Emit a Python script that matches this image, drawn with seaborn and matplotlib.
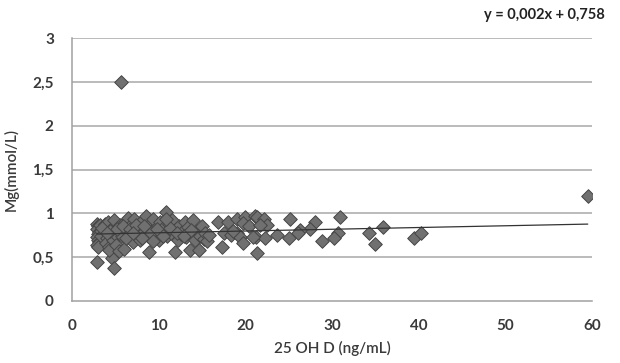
import numpy as np
import pandas as pd
import seaborn as sns
import matplotlib.pyplot as plt

# 25 OH D (ng/mL) vs Mg (mmol/L)
vit_d = [2.9, 3.0, 2.9, 3.1, 3.0, 2.9, 3.0, 3.1, 2.9, 3.0, 3.2, 3.3, 3.4, 2.9,
         3.8, 4.0, 4.2, 4.5, 4.0, 3.9, 4.3, 4.6, 4.3, 4.8, 4.8, 4.9, 4.7, 5.0, 5.1, 5.4,
         5.5, 5.7, 5.8, 6.0, 6.1, 6.3, 6.5, 6.6, 6.8, 6.9, 7.0, 7.2, 7.3, 7.5, 7.6, 5.7,
         7.8, 8.0, 8.2, 8.5, 8.6, 8.8, 8.9, 9.0, 9.2, 9.4, 9.5, 9.7, 9.9, 10.0, 10.2,
         10.4, 10.6, 10.9, 11.0, 11.2, 11.4, 11.6, 11.9, 12.0, 12.2, 12.4, 12.6, 12.8, 13.0, 13.2,
         13.4, 13.6, 13.8, 14.0, 14.2, 14.4, 14.7, 14.8, 15.0, 15.2, 15.4, 15.6, 15.8,
         3.5, 4.4, 5.2, 5.9, 6.7, 7.4, 8.3, 9.1, 9.8, 10.5, 11.3, 12.1, 12.9, 13.7,
         8.1, 6.2, 4.1, 10.8, 9.3, 7.0,
         16.8, 18.0, 19.0, 20.0, 21.1, 19.7, 20.4, 17.5, 18.3, 19.0, 19.4, 19.7, 21.2, 18.6, 17.3,
         21.3, 25.2, 28.0, 30.9, 30.7, 30.2, 28.8, 27.5, 26.3, 26.1, 25.0, 23.7, 22.3,
         21.4, 34.3, 35.0, 35.9, 39.5, 40.3, 22.1, 22.5, 21.7, 20.9, 59.5]
mg = [0.88, 0.85, 0.82, 0.79, 0.76, 0.73, 0.70, 0.67, 0.64, 0.61, 0.87, 0.80, 0.74, 0.45,
      0.88, 0.84, 0.90, 0.78, 0.72, 0.66, 0.62, 0.49, 0.58, 0.38, 0.85, 0.92, 0.70, 0.76, 0.64, 0.57,
      0.87, 0.80, 0.74, 0.59, 0.90, 0.84, 0.95, 0.78, 0.72, 0.88, 0.67, 0.93, 0.80, 0.75, 0.85, 2.50,
      0.70, 0.90, 0.78, 0.84, 0.97, 0.74, 0.56, 0.88, 0.80, 0.93, 0.72, 0.76, 0.86, 0.70, 0.90,
      0.79, 0.84, 1.02, 0.74, 0.88, 0.78, 0.92, 0.56, 0.82, 0.70, 0.86, 0.76, 0.80, 0.90, 0.73,
      0.84, 0.58, 0.77, 0.92, 0.69, 0.80, 0.58, 0.74, 0.85, 0.71, 0.78, 0.68, 0.75,
      0.83, 0.80, 0.82, 0.86, 0.82, 0.87, 0.86, 0.77, 0.82, 0.74, 0.83, 0.77, 0.74, 0.81,
      0.72, 0.72, 0.77, 0.93, 0.68, 0.77,
      0.90, 0.90, 0.94, 0.96, 0.97, 0.89, 0.85, 0.77, 0.75, 0.77, 0.73, 0.66, 0.73, 0.80, 0.61,
      0.55, 0.93, 0.90, 0.96, 0.78, 0.72, 0.68, 0.82, 0.81, 0.77, 0.72, 0.75, 0.72,
      0.96, 0.78, 0.65, 0.84, 0.72, 0.78, 0.93, 0.87, 0.87, 0.73, 1.20]

slope = 0.002
intercept = 0.758
y_ticks = [0, 0.5, 1, 1.5, 2, 2.5, 3]
y_tick_labels = ['0', '0,5', '1', '1,5', '2', '2,5', '3']
x_ticks = [0, 10, 20, 30, 40, 50, 60]

df = pd.DataFrame({'vitd': vit_d, 'mg': mg})

sns.set_style('white')
plt.rcParams['font.family'] = ['Lato', 'DejaVu Sans']
text_col = '#3a3a3a'

fig = plt.figure(figsize=(6.2, 3.63), dpi=100)
ax = fig.add_axes([0.116, 0.171, 0.839, 0.724])

# gridlines
for t in y_ticks[1:]:
    ax.axhline(t, color='#a8a8a8', lw=1.1, zorder=0)

sns.scatterplot(data=df, x='vitd', y='mg', marker='D', s=48, color='#707070',
                edgecolor='#454545', linewidth=0.7, ax=ax, zorder=3)

# trend line y = 0,002x + 0,758
xl = np.array([min(vit_d), max(vit_d)])
ax.plot(xl, slope * xl + intercept, color='#333333', lw=0.9, zorder=4)

ax.set_xlim(0, 60)
ax.set_ylim(0, 3)
ax.set_xticks(x_ticks)
ax.set_xticklabels([str(t) for t in x_ticks])
ax.set_yticks(y_ticks)
ax.set_yticklabels(y_tick_labels)

for s in ['top', 'right']:
    ax.spines[s].set_visible(False)
for s in ['left', 'bottom']:
    ax.spines[s].set_color('#a0a0a0')
    ax.spines[s].set_linewidth(1.1)
ax.tick_params(axis='both', length=5, width=1, color='#a0a0a0', direction='out',
               labelsize=11, labelcolor=text_col, pad=8)
for lab in ax.get_xticklabels() + ax.get_yticklabels():
    lab.set_fontweight('bold')

ax.set_xlabel('25 OH D (ng/mL)', fontsize=11, fontweight='semibold', color=text_col, labelpad=6)
ax.set_ylabel('Mg(mmol/L)', fontsize=11, fontweight='semibold', color=text_col, labelpad=10)

fig.text(0.976, 0.958, 'y = 0,002x + 0,758', ha='right', va='center', fontsize=10.5,
         fontweight='bold', color='#222222')

fig.savefig('out.png', dpi=100)
